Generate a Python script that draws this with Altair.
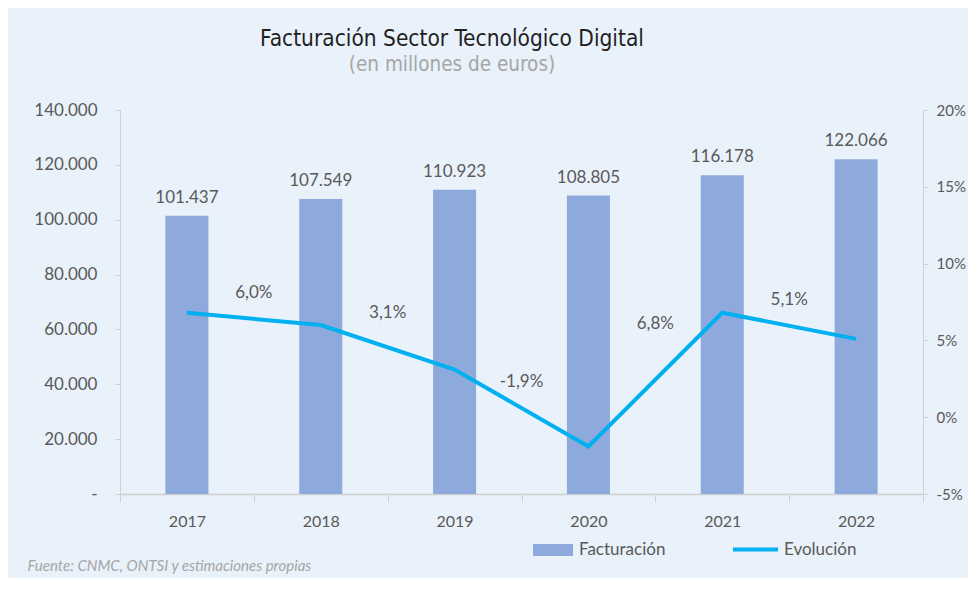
import altair as alt
import pandas as pd

anios = ["2017", "2018", "2019", "2020", "2021", "2022"]
facturacion = [101437, 107549, 110923, 108805, 116178, 122066]
evolucion = [6.8, 6.0, 3.1, -1.9, 6.8, 5.1]
# growth labels (shown for 2018-2022) and the height at which each label sits (in % units)
etiqueta_anio = ["2018", "2019", "2020", "2021", "2022"]
etiqueta_valor = [6.0, 3.1, -1.9, 6.8, 5.1]
etiqueta_altura = [8.1, 6.8, 2.3, 6.1, 7.6]

BG = "#E9F1FA"
BAR = "#8EA9DB"
LINE = "#00B0F0"
TXT = "#595959"
FONT = "Lato"
NARROW = "Liberation Sans Narrow, DejaVu Sans Condensed, Roboto"

df = pd.DataFrame({"anio": anios, "fact": facturacion, "evo": evolucion,
                   "serie_b": "Facturación", "serie_l": "Evolución"})
df["fact_lbl"] = [f"{v:,}".replace(",", ".") for v in facturacion]
dl = pd.DataFrame({"anio": etiqueta_anio, "pos": etiqueta_altura,
                   "txt": [f"{v:.1f}".replace(".", ",") + "%" for v in etiqueta_valor]})

x_enc = alt.X("anio:N", sort=anios, scale=alt.Scale(paddingInner=0, paddingOuter=0),
              axis=alt.Axis(title="Fuente: CNMC, ONTSI y estimaciones propias",
                            titleX=-93, titleY=71, titleAlign="left", titleBaseline="middle",
                            titleFont=FONT, titleFontStyle="italic", titleFontWeight="normal",
                            titleFontSize=15, titleColor="#A6A6A6",
                            labelAngle=0, labelFont=FONT, labelFontSize=16, labelColor=TXT,
                            labelPadding=11, tickSize=8, tickColor="#D0D0D0", tickBand="extent",
                            domainColor="#D0D0D0", domainWidth=1.5))

left_scale = alt.Scale(domain=[0, 140000])
bars = alt.Chart(df).mark_bar(size=43).encode(
    x=x_enc,
    y=alt.Y("fact:Q", scale=left_scale,
            axis=alt.Axis(title=None, values=list(range(0, 140001, 20000)),
                          labelExpr="datum.value == 0 ? '-' : replace(format(datum.value, ','), ',', '.')",
                          labelFont=FONT, labelFontSize=17, labelColor=TXT, labelPadding=18,
                          tickSize=5, tickColor="#D0D0D0", domainColor="#D0D0D0", grid=False)),
    color=alt.Color("serie_b:N", scale=alt.Scale(domain=["Facturación"], range=[BAR]),
                    legend=alt.Legend(title=None, orient="none", legendX=413, legendY=420,
                                      symbolType="M-1,-0.3H1V0.3H-1Z", symbolSize=1600,
                                      symbolStrokeWidth=0, symbolOpacity=1,
                                      labelFont=FONT, labelFontSize=17, labelColor=TXT,
                                      labelOffset=6)),
)
bar_text = alt.Chart(df).mark_text(baseline="bottom", dy=-9, font=FONT, fontSize=17, color=TXT).encode(
    x=alt.X("anio:N", sort=anios),
    y=alt.Y("fact:Q", scale=left_scale),
    text="fact_lbl:N",
)

right_scale = alt.Scale(domain=[-5, 20])
line = alt.Chart(df).mark_line(strokeWidth=4).encode(
    x=alt.X("anio:N", sort=anios),
    y=alt.Y("evo:Q", scale=right_scale,
            axis=alt.Axis(title=None, orient="right", values=[-5, 0, 5, 10, 15, 20],
                          labelExpr="datum.value + '%'",
                          labelFont=FONT, labelFontSize=15, labelColor=TXT, labelPadding=8,
                          tickSize=5, tickColor="#D0D0D0", domainColor="#D0D0D0", grid=False)),
    color=alt.Color("serie_l:N", scale=alt.Scale(domain=["Evolución"], range=[LINE]),
                    legend=alt.Legend(title=None, orient="none", legendX=611, legendY=415,
                                      symbolType="stroke", symbolSize=2025, symbolStrokeWidth=4,
                                      labelFont=FONT, labelFontSize=17, labelColor=TXT,
                                      labelOffset=4)),
)
line_text = alt.Chart(dl).mark_text(font=FONT, fontSize=17, color=TXT, baseline="middle").encode(
    x=alt.X("anio:N", sort=anios, bandPosition=0),
    y=alt.Y("pos:Q", scale=right_scale),
    text="txt:N",
)

left = alt.layer(bars, bar_text)
right = alt.layer(line, line_text)
chart = alt.layer(left, right).resolve_scale(y="independent", color="independent").properties(
    width=803, height=384,
    autosize=alt.AutoSizeParams(type="none"),
    padding={"left": 112, "top": 102, "right": 45, "bottom": 84},
    background=BG,
    title=alt.TitleParams(text="Facturación Sector Tecnológico Digital",
                          subtitle="(en millones de euros)",
                          anchor="start", align="center", dx=332, frame="group",
                          font=NARROW, fontSize=22.5, fontWeight="normal", color="#1F1F1F",
                          subtitleFont=NARROW, subtitleFontSize=20.5, subtitleColor="#A6A6A6",
                          subtitlePadding=4, offset=26),
).configure_view(stroke=None)

chart.save("out.html", embed_options={"renderer": "svg", "actions": False})
